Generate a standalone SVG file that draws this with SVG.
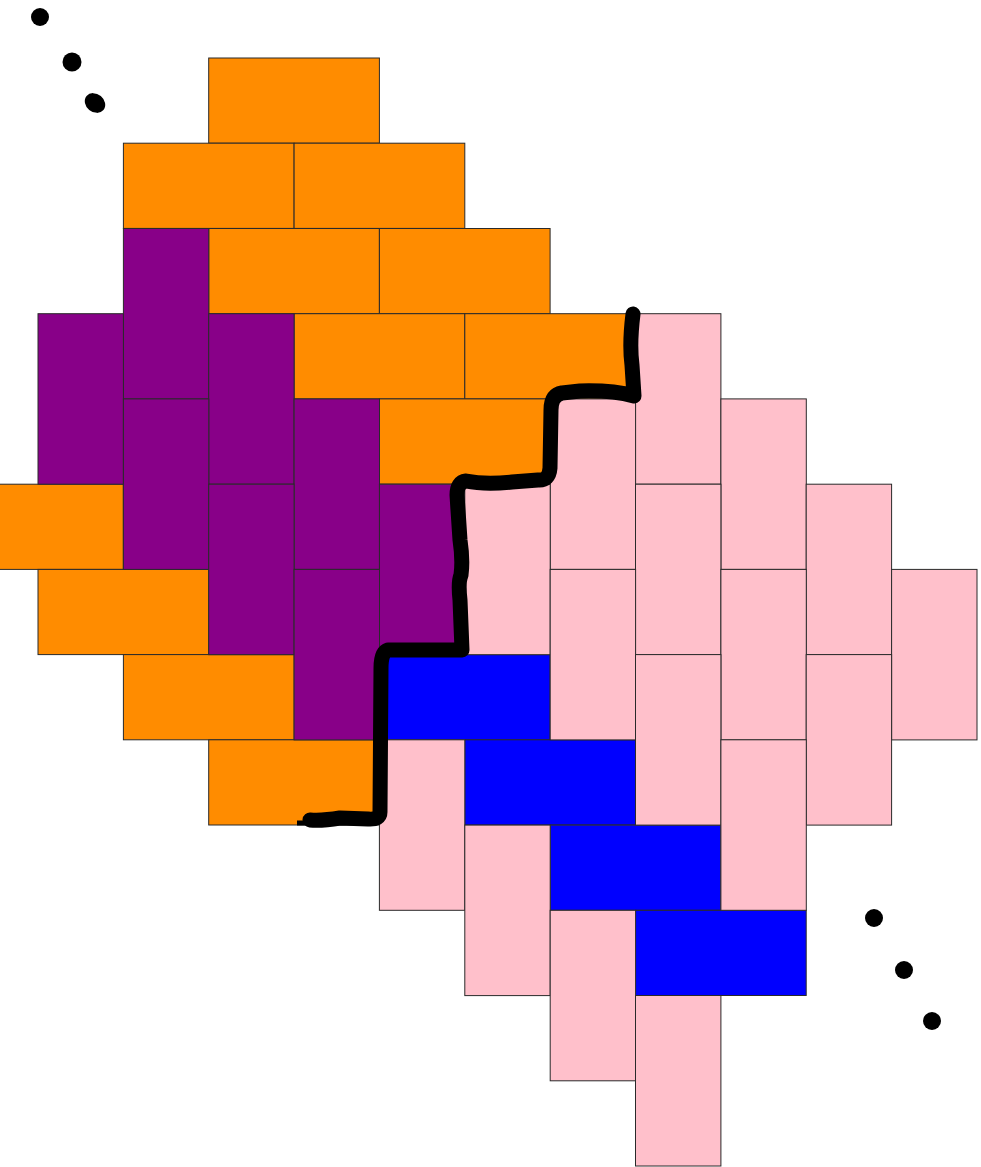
<svg xmlns="http://www.w3.org/2000/svg" width="981" height="1167" viewBox="0 0 981 1167">
<style>
rect{stroke:#2a2a2a;stroke-width:1}
.o{fill:#FF8C00}
.p{fill:#880088}
.b{fill:#0000FF}
.k{fill:#FFC0CB}
.dot{fill:#000}
.cut{fill:none;stroke:#000;stroke-width:15;stroke-linecap:round;stroke-linejoin:round}
</style>
<rect width="981" height="1167" fill="#fff" style="stroke:none"/>
<g id="orange">
<rect class="o" x="208.7" y="58" width="170.7" height="85.2"/>
<rect class="o" x="123.4" y="143.2" width="170.7" height="85.2"/>
<rect class="o" x="294.1" y="143.2" width="170.7" height="85.2"/>
<rect class="o" x="208.7" y="228.5" width="170.7" height="85.2"/>
<rect class="o" x="379.4" y="228.5" width="170.7" height="85.2"/>
<rect class="o" x="294.1" y="313.7" width="170.7" height="85.2"/>
<rect class="o" x="464.8" y="313.7" width="170.7" height="85.2"/>
<rect class="o" x="379.4" y="398.9" width="170.7" height="85.2"/>
<rect class="o" x="-47.4" y="484.2" width="170.7" height="85.2"/>
<rect class="o" x="38" y="569.4" width="170.7" height="85.2"/>
<rect class="o" x="123.4" y="654.6" width="170.7" height="85.2"/>
<rect class="o" x="208.7" y="739.8" width="170.7" height="85.2"/>
</g>
<g id="purple">
<rect class="p" x="123.4" y="228.5" width="85.4" height="170.5"/>
<rect class="p" x="38" y="313.7" width="85.4" height="170.5"/>
<rect class="p" x="208.7" y="313.7" width="85.4" height="170.5"/>
<rect class="p" x="123.4" y="398.9" width="85.4" height="170.5"/>
<rect class="p" x="294.1" y="398.9" width="85.4" height="170.5"/>
<rect class="p" x="208.7" y="484.2" width="85.4" height="170.5"/>
<rect class="p" x="379.4" y="484.2" width="85.4" height="170.5"/>
<rect class="p" x="294.1" y="569.4" width="85.4" height="170.5"/>
</g>
<g id="blue">
<rect class="b" x="379.4" y="654.6" width="170.7" height="85.2"/>
<rect class="b" x="464.8" y="739.8" width="170.7" height="85.2"/>
<rect class="b" x="550.2" y="825.1" width="170.7" height="85.2"/>
<rect class="b" x="635.5" y="910.3" width="170.7" height="85.2"/>
</g>
<g id="pink">
<rect class="k" x="635.5" y="313.7" width="85.4" height="170.5"/>
<rect class="k" x="550.2" y="398.9" width="85.4" height="170.5"/>
<rect class="k" x="720.9" y="398.9" width="85.4" height="170.5"/>
<rect class="k" x="464.8" y="484.2" width="85.4" height="170.5"/>
<rect class="k" x="635.5" y="484.2" width="85.4" height="170.5"/>
<rect class="k" x="806.2" y="484.2" width="85.4" height="170.5"/>
<rect class="k" x="550.2" y="569.4" width="85.4" height="170.5"/>
<rect class="k" x="720.9" y="569.4" width="85.4" height="170.5"/>
<rect class="k" x="891.6" y="569.4" width="85.4" height="170.5"/>
<rect class="k" x="635.5" y="654.6" width="85.4" height="170.5"/>
<rect class="k" x="806.2" y="654.6" width="85.4" height="170.5"/>
<rect class="k" x="379.4" y="739.8" width="85.4" height="170.5"/>
<rect class="k" x="720.9" y="739.8" width="85.4" height="170.5"/>
<rect class="k" x="464.8" y="825.1" width="85.4" height="170.5"/>
<rect class="k" x="550.2" y="910.3" width="85.4" height="170.5"/>
<rect class="k" x="635.5" y="995.5" width="85.4" height="170.5"/>
</g>
<g id="cut-path">
<path class="cut" d="M633,314 C631,330 630,350 632,365 L634,396 Q612,390 580,391 L562,393 Q551,395 551,410 L550,468 Q549,481 538,480 L512,482 Q485,485 466,481 Q457,482 457,495 L460,540 Q463,560 461,575 Q458,582 460,600 L462,650 Q440,650 405,650 L388,650 Q381,652 381,668 L380,812 Q380,820 368,819 L340,818 Q322,821 310,820"/>
<path d="M297,823 L312,823" stroke="#000" stroke-width="5" fill="none"/>
</g>
<g id="dots">
<circle class="dot" cx="40" cy="17" r="9"/>
<circle class="dot" cx="72" cy="62" r="9.5"/>
<ellipse class="dot" cx="95" cy="103" rx="11" ry="9" transform="rotate(40 95 103)"/>
<circle class="dot" cx="874" cy="918" r="9"/>
<circle class="dot" cx="904" cy="970" r="9"/>
<circle class="dot" cx="932" cy="1021" r="9"/>
</g>
</svg>
